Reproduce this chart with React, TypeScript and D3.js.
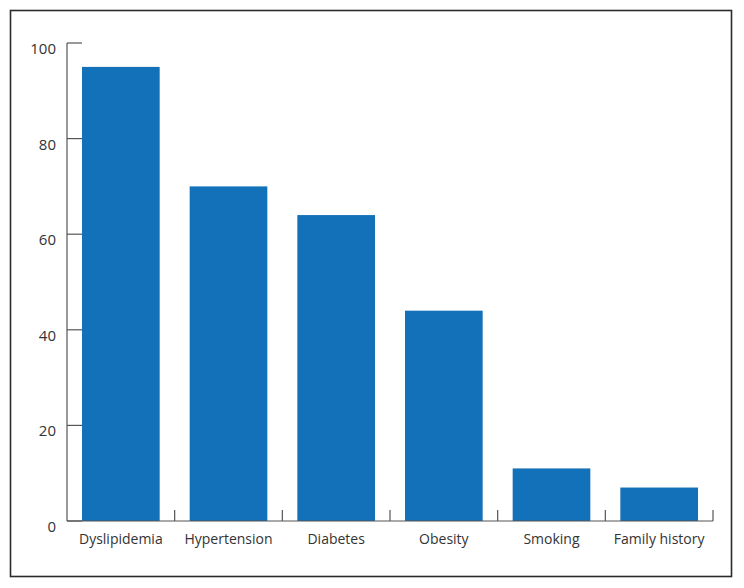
import React, { useEffect } from 'react';
import * as d3 from 'd3';

const categories = ['Dyslipidemia', 'Hypertension', 'Diabetes', 'Obesity', 'Smoking', 'Family history'];
const values = [95, 70, 64, 44, 11, 7];
const yTicks = [0, 20, 40, 60, 80, 100];

const W = 744;
const H = 588;
const margin = { left: 67, right: 31, top: 43, bottom: 67 };
const barColor = '#1271b9';
const font = '"Open Sans", "Noto Sans", sans-serif';

const App: React.FC = () => {
  useEffect(() => {
    document.body.style.margin = '0';
  }, []);

  const x = d3.scaleBand<string>()
    .domain(categories)
    .range([margin.left, W - margin.right])
    .paddingInner(0)
    .paddingOuter(0);

  const y = d3.scaleLinear()
    .domain([0, 100])
    .range([H - margin.bottom, margin.top]);

  const barPad = 15;
  const bw = x.bandwidth() - barPad * 2;
  const y0 = y(0);

  return (
    <svg width={W} height={H} style={{ display: 'block', background: '#fff' }}>
      {/* frame */}
      <rect x={10.5} y={10.5} width={721} height={566} fill="none" stroke="#2b2b2b" strokeWidth={1.6} />

      {/* bars */}
      {categories.map((c, i) => (
        <rect
          key={c}
          x={(x(c) || 0) + barPad}
          y={y(values[i])}
          width={bw}
          height={y0 - y(values[i])}
          fill={barColor}
        />
      ))}

      {/* y axis */}
      <line x1={margin.left} x2={margin.left} y1={y(100)} y2={y0} stroke="#555" strokeWidth={1.2} />
      {yTicks.map(t => (
        <g key={t}>
          <line x1={margin.left} x2={margin.left + 15} y1={y(t)} y2={y(t)} stroke="#555" strokeWidth={1.2} />
          <text
            x={56}
            y={y(t) + 11}
            textAnchor="end"
            fontFamily={font}
            fontSize={15}
            fill="#333"
          >
            {t}
          </text>
        </g>
      ))}

      {/* x axis */}
      <line x1={margin.left} x2={W - margin.right} y1={y0} y2={y0} stroke="#555" strokeWidth={1.2} />
      {categories.map((c, i) => (
        <g key={c}>
          {i > 0 && (
            <line x1={x(c) || 0} x2={x(c) || 0} y1={y0} y2={y0 - 11} stroke="#555" strokeWidth={1.2} />
          )}
          <text
            x={(x(c) || 0) + x.bandwidth() / 2}
            y={544}
            textAnchor="middle"
            fontFamily={font}
            fontSize={14}
            fill="#333"
          >
            {c}
          </text>
        </g>
      ))}
      <line x1={W - margin.right} x2={W - margin.right} y1={y0} y2={y0 - 11} stroke="#555" strokeWidth={1.2} />
    </svg>
  );
};

export default App;
